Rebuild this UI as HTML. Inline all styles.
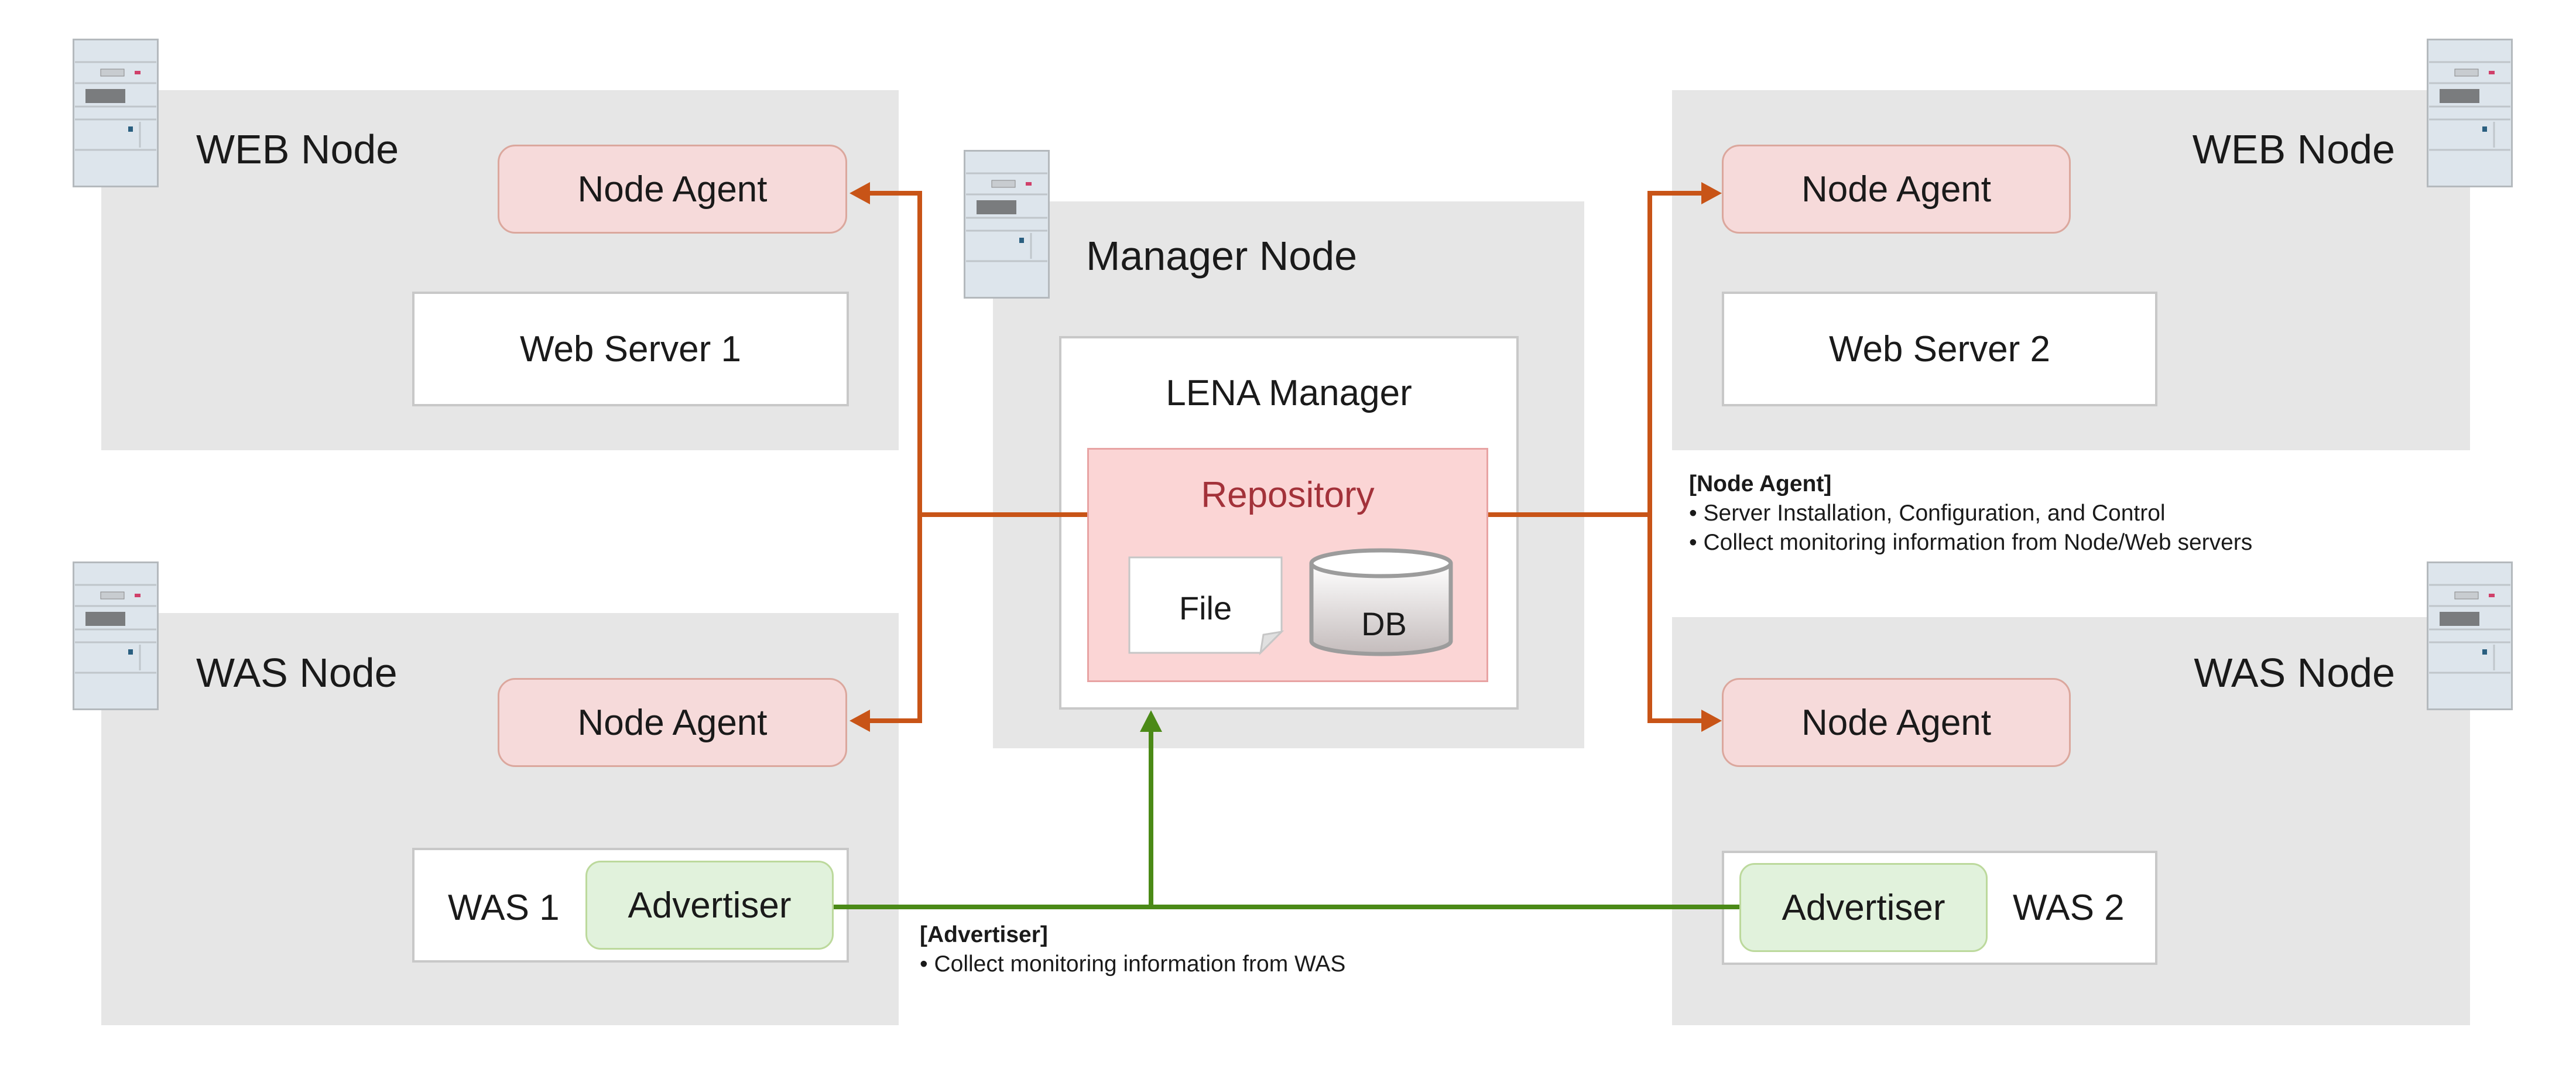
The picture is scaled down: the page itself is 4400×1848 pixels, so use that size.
<!DOCTYPE html>
<html><head><meta charset="utf-8"><style>
html,body{margin:0;padding:0;background:#fff}
body{width:4400px;height:1848px;position:relative;overflow:hidden;font-family:"Liberation Sans",sans-serif;color:#1a1a1a}
.a{position:absolute;box-sizing:border-box}
.gray{background:#e6e6e6}
.white{background:#fff;border:4px solid #c8c8c8}
.c{display:flex;align-items:center;justify-content:center}
.agent{background:#f6dada;border:3px solid #dba79d;border-radius:30px;font-size:62px}
.adv{background:#e1f2dc;border:3px solid #bcd99c;border-radius:26px;font-size:62px}
.title{font-size:70px;line-height:1;white-space:nowrap}
.lbl{font-size:62px;white-space:nowrap}
.desc{font-size:39px;line-height:50px;white-space:nowrap}
</style></head><body>

<svg width="0" height="0" style="position:absolute">
<defs>
<symbol id="srv" viewBox="0 0 147 254">
<rect x="1.5" y="1.5" width="144" height="251" fill="#dde5ec" stroke="#b4b9bd" stroke-width="3"/>
<line x1="4" y1="40" x2="143" y2="40" stroke="#bfc5ca" stroke-width="3"/>
<line x1="4" y1="76" x2="143" y2="76" stroke="#bfc5ca" stroke-width="3"/>
<line x1="4" y1="116" x2="143" y2="116" stroke="#bfc5ca" stroke-width="3"/>
<line x1="4" y1="138" x2="143" y2="138" stroke="#bfc5ca" stroke-width="3"/>
<line x1="4" y1="190" x2="143" y2="190" stroke="#bfc5ca" stroke-width="3"/>
<rect x="48" y="52" width="40" height="12" fill="#c8ccd0" stroke="#888" stroke-width="1"/>
<rect x="106" y="55" width="10" height="6" fill="#d0406a"/>
<rect x="22" y="86" width="68" height="24" fill="#7a7c7e"/>
<rect x="95" y="150" width="8" height="9" fill="#2a5f80"/>
<line x1="115" y1="142" x2="115" y2="186" stroke="#c0c6cb" stroke-width="3"/>
</symbol>
</defs>
</svg>

<div class="a gray" style="left:173px;top:154px;width:1362px;height:615px"></div>
<div class="a gray" style="left:173px;top:1047px;width:1362px;height:704px"></div>
<div class="a gray" style="left:2856px;top:154px;width:1363px;height:615px"></div>
<div class="a gray" style="left:2856px;top:1054px;width:1363px;height:697px"></div>
<div class="a gray" style="left:1696px;top:344px;width:1010px;height:934px"></div>

<svg class="a" style="left:124px;top:66px" width="147" height="254"><use href="#srv"/></svg>
<svg class="a" style="left:124px;top:959px" width="147" height="254"><use href="#srv"/></svg>
<svg class="a" style="left:4145px;top:66px" width="147" height="254"><use href="#srv"/></svg>
<svg class="a" style="left:4145px;top:959px" width="147" height="254"><use href="#srv"/></svg>
<svg class="a" style="left:1646px;top:256px" width="147" height="254"><use href="#srv"/></svg>

<div class="a title" style="left:335px;top:220px">WEB Node</div>
<div class="a title" style="left:335px;top:1114px">WAS Node</div>
<div class="a title" style="right:309px;top:220px">WEB Node</div>
<div class="a title" style="right:309px;top:1114px">WAS Node</div>
<div class="a title" style="left:1855px;top:402px">Manager Node</div>

<div class="a agent c" style="left:850px;top:247px;width:597px;height:152px">Node Agent</div>
<div class="a white c lbl" style="left:704px;top:498px;width:746px;height:196px">Web Server 1</div>
<div class="a agent c" style="left:850px;top:1158px;width:597px;height:152px">Node Agent</div>
<div class="a white" style="left:704px;top:1448px;width:746px;height:196px"></div>
<div class="a lbl" style="left:765px;top:1515px">WAS 1</div>
<div class="a adv c" style="left:1000px;top:1470px;width:424px;height:152px">Advertiser</div>

<div class="a agent c" style="left:2941px;top:247px;width:596px;height:152px">Node Agent</div>
<div class="a white c lbl" style="left:2941px;top:498px;width:744px;height:196px">Web Server 2</div>
<div class="a agent c" style="left:2941px;top:1158px;width:596px;height:152px">Node Agent</div>
<div class="a white" style="left:2941px;top:1453px;width:744px;height:195px"></div>
<div class="a adv c" style="left:2971px;top:1474px;width:424px;height:152px">Advertiser</div>
<div class="a lbl" style="left:3438px;top:1515px">WAS 2</div>

<div class="a white" style="left:1809px;top:574px;width:785px;height:638px"></div>
<div class="a lbl" style="left:1809px;top:636px;width:785px;text-align:center">LENA Manager</div>
<div class="a" style="left:1857px;top:765px;width:685px;height:400px;background:#fbd5d5;border:3px solid #e8a3a3"></div>
<div class="a lbl" style="left:1857px;top:810px;width:685px;text-align:center;color:#a3323a">Repository</div>

<svg class="a" style="left:0;top:0" width="4400" height="1848">
<path d="M1929 952 H2189 V1079 L2153 1115 H1929 Z" fill="#fff" stroke="#c6c6c6" stroke-width="3"/>
<path d="M2153 1115 L2158 1084 L2189 1079 Z" fill="#e0e0e0" stroke="#c6c6c6" stroke-width="3"/>
<text x="2059" y="1058" font-family="Liberation Sans" font-size="56" text-anchor="middle" fill="#1a1a1a">File</text>
<defs><linearGradient id="dbg" x1="0" y1="0" x2="0" y2="1"><stop offset="0" stop-color="#ffffff"/><stop offset="1" stop-color="#c4bcbc"/></linearGradient></defs>
<path d="M2240 962 V1095 A119 22 0 0 0 2478 1095 V962" fill="url(#dbg)" stroke="#9c9c9c" stroke-width="7"/>
<ellipse cx="2359" cy="962" rx="119" ry="22" fill="#fff" stroke="#9c9c9c" stroke-width="7"/>
<text x="2364" y="1085" font-family="Liberation Sans" font-size="56" text-anchor="middle" fill="#1a1a1a">DB</text>

<g stroke="#c85417" stroke-width="8" fill="none">
<polyline points="1480,330 1571,330 1571,1231 1480,1231"/>
<line x1="1571" y1="879" x2="1857" y2="879"/>
<polyline points="2912,330 2818,330 2818,1231 2912,1231"/>
<line x1="2542" y1="879" x2="2818" y2="879"/>
</g>
<g fill="#c85417">
<polygon points="1451,330 1486,311 1486,349"/>
<polygon points="1451,1231 1486,1212 1486,1250"/>
<polygon points="2941,330 2906,311 2906,349"/>
<polygon points="2941,1231 2906,1212 2906,1250"/>
</g>
<g stroke="#4b8a17" stroke-width="8" fill="none">
<line x1="1424" y1="1549" x2="2971" y2="1549"/>
<line x1="1966" y1="1549" x2="1966" y2="1245"/>
</g>
<polygon points="1966,1213 1947,1250 1985,1250" fill="#4b8a17"/>
</svg>

<div class="a desc" style="left:2885px;top:802px"><b>[Node Agent]</b><br>• Server Installation, Configuration, and Control<br>• Collect monitoring information from Node/Web servers</div>
<div class="a desc" style="left:1571px;top:1572px"><b>[Advertiser]</b><br>• Collect monitoring information from WAS</div>

</body></html>
